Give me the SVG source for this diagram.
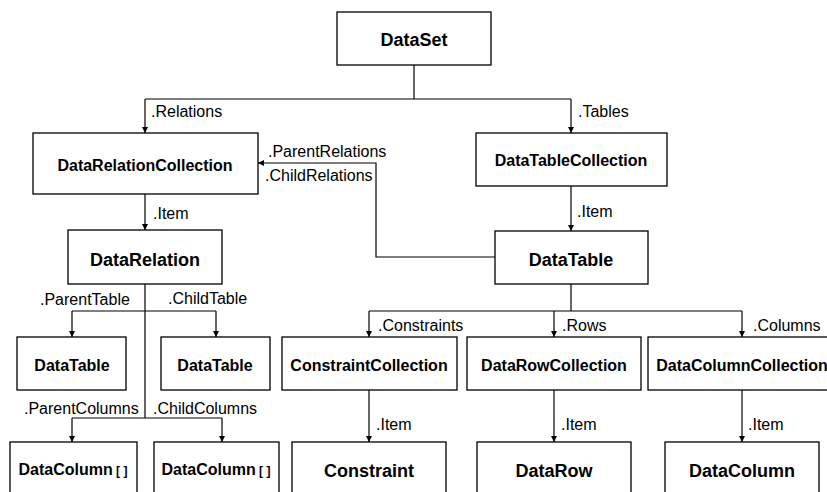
<svg xmlns="http://www.w3.org/2000/svg" width="827" height="492" viewBox="0 0 827 492">
<defs>
<style>
.box{fill:#fff;stroke:#000;stroke-width:1.3}
.t{font-family:"Liberation Sans",Arial,sans-serif;font-weight:bold;text-anchor:middle;fill:#000}
.t18{font-size:18px}
.t16{font-size:16px}
.lbl{font-family:"Liberation Sans",Arial,sans-serif;font-size:16px;fill:#000}
.c{fill:none;stroke:#000;stroke-width:1.2}
.ca{fill:none;stroke:#000;stroke-width:1.2;marker-end:url(#ah)}
</style>
<marker id="ah" viewBox="0 0 10 10" refX="10" refY="5" markerWidth="6" markerHeight="6" markerUnits="userSpaceOnUse" orient="auto">
<path d="M0,0 L10,5 L0,10 z" fill="#000"/>
</marker>
</defs>
<rect width="827" height="492" fill="#fff"/>
<g id="connectors">
<path class="c" d="M414,65 V99 M145,99 H571"/>
<path class="ca" d="M145,99 V133"/>
<path class="ca" d="M571,99 V133"/>
<path class="ca" d="M571,186 V231"/>
<path class="ca" d="M145,194 V230"/>
<path class="ca" d="M495,257 H376 V163 H258"/>
<path class="c" d="M145,284 V418 M72,311 H216 M72,418 H222"/>
<path class="ca" d="M72,311 V337"/>
<path class="ca" d="M216,311 V337"/>
<path class="ca" d="M72,418 V442"/>
<path class="ca" d="M222,418 V442"/>
<path class="c" d="M571,284 V311 M369,311 H742"/>
<path class="ca" d="M369,311 V337"/>
<path class="ca" d="M554,311 V337"/>
<path class="ca" d="M742,311 V337"/>
<path class="ca" d="M369,390 V442"/>
<path class="ca" d="M554,390 V442"/>
<path class="ca" d="M742,390 V442"/>
<text class="lbl" x="151" y="117">.Relations</text>
<text class="lbl" x="578" y="117">.Tables</text>
<text class="lbl" x="153" y="219">.Item</text>
<text class="lbl" x="577" y="217">.Item</text>
<text class="lbl" x="268" y="157">.ParentRelations</text>
<text class="lbl" x="265" y="181">.ChildRelations</text>
<text class="lbl" x="40" y="305">.ParentTable</text>
<text class="lbl" x="168" y="304">.ChildTable</text>
<text class="lbl" x="24" y="414">.ParentColumns</text>
<text class="lbl" x="153" y="414">.ChildColumns</text>
<text class="lbl" x="378" y="331">.Constraints</text>
<text class="lbl" x="562" y="331">.Rows</text>
<text class="lbl" x="753" y="331">.Columns</text>
<text class="lbl" x="376" y="430">.Item</text>
<text class="lbl" x="561" y="430">.Item</text>
<text class="lbl" x="748" y="430">.Item</text>
</g>
<g id="dataset"><rect class="box" x="337" y="12" width="154" height="53"/><text class="t t18" x="414" y="46">DataSet</text></g>
<g id="datarelationcollection"><rect class="box" x="33" y="133" width="225" height="61"/><text class="t t16" x="145" y="171">DataRelationCollection</text></g>
<g id="datatablecollection"><rect class="box" x="476" y="133" width="191" height="53"/><text class="t t16" x="571" y="166">DataTableCollection</text></g>
<g id="datarelation"><rect class="box" x="68" y="230" width="154" height="54"/><text class="t t18" x="145" y="266">DataRelation</text></g>
<g id="datatable"><rect class="box" x="495" y="231" width="153" height="53"/><text class="t t18" x="571" y="266">DataTable</text></g>
<g id="parenttable"><rect class="box" x="17" y="337" width="109" height="53"/><text class="t t16" x="72" y="371">DataTable</text></g>
<g id="childtable"><rect class="box" x="161" y="337" width="109" height="53"/><text class="t t16" x="215" y="371">DataTable</text></g>
<g id="constraintcollection"><rect class="box" x="282" y="337" width="175" height="53"/><text class="t t16" x="369" y="371">ConstraintCollection</text></g>
<g id="datarowcollection"><rect class="box" x="467" y="337" width="174" height="53"/><text class="t t16" x="554" y="371">DataRowCollection</text></g>
<g id="datacolumncollection"><rect class="box" x="648" y="337" width="190" height="53"/><text class="t t16" x="742" y="371">DataColumnCollection</text></g>
<g id="parentcolumns"><rect class="box" x="10" y="442" width="127" height="60"/><text class="t t16" x="73" y="475">DataColumn<tspan font-size="12px"> [ ]</tspan></text></g>
<g id="childcolumns"><rect class="box" x="154" y="442" width="125" height="60"/><text class="t t16" x="216" y="475">DataColumn<tspan font-size="12px"> [ ]</tspan></text></g>
<g id="constraint"><rect class="box" x="292" y="442" width="154" height="60"/><text class="t t18" x="369" y="477">Constraint</text></g>
<g id="datarow"><rect class="box" x="477" y="442" width="154" height="60"/><text class="t t18" x="554" y="477">DataRow</text></g>
<g id="datacolumn"><rect class="box" x="665" y="442" width="154" height="60"/><text class="t t18" x="742" y="477">DataColumn</text></g>
</svg>
